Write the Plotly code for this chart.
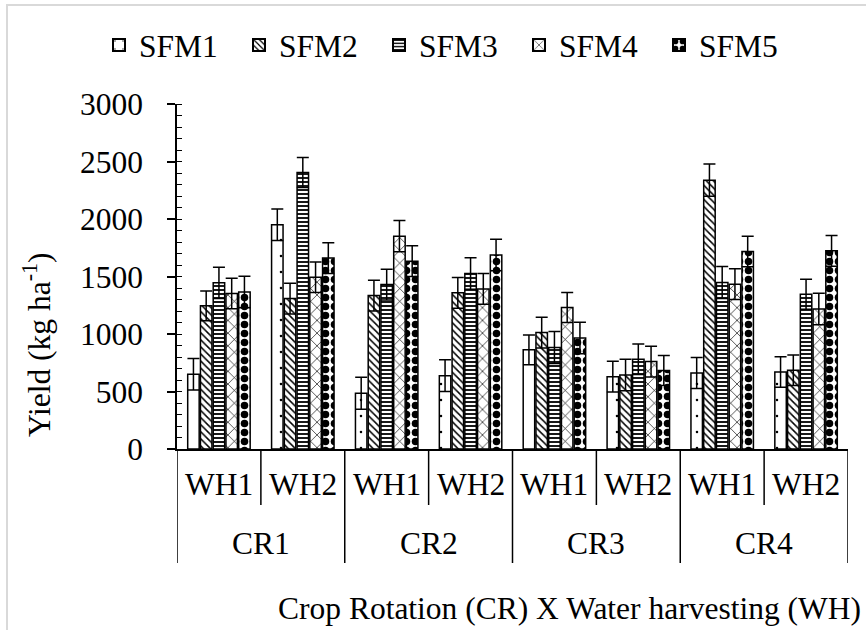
import plotly.graph_objects as go

# ---------------- data ----------------
crop_rotations = ["CR1", "CR2", "CR3", "CR4"]
water_harvesting = ["WH1", "WH2"]
series_names = ["SFM1", "SFM2", "SFM3", "SFM4", "SFM5"]

sfm1 = [650, 1950, 485, 638, 862, 629, 661, 670]
sfm2 = [1245, 1308, 1334, 1358, 1012, 644, 2338, 685]
sfm3 = [1445, 2405, 1430, 1526, 882, 781, 1448, 1346]
sfm4 = [1352, 1494, 1851, 1392, 1230, 760, 1433, 1218]
sfm5 = [1366, 1660, 1633, 1688, 966, 682, 1718, 1723]

sfm1_err = [136, 136, 139, 139, 130, 134, 134, 133]
sfm2_err = [130, 134, 134, 133, 134, 137, 140, 133]
sfm3_err = [136, 130, 134, 136, 139, 133, 139, 131]
sfm4_err = [133, 133, 136, 134, 130, 134, 134, 137]
sfm5_err = [137, 133, 134, 137, 137, 130, 133, 133]

y_title = "Yield (kg ha<sup>-1</sup>)"
x_title = "Crop Rotation (CR) X Water harvesting (WH)"

# ---------------- layout geometry (px) ----------------
W, H = 866, 630
ML, MR, MT, MB = 177, 18, 104, 181
PW = W - ML - MR
PH = H - MT - MB
FONT = "Liberation Serif, Times New Roman, DejaVu Serif, serif"
FS = 31.5


def px_x(px):
    return (px - ML) / PW


def px_y(py):
    return (H - MB - py) / PH


categories = [f"{cr} {wh}" for cr in crop_rotations for wh in water_harvesting]

values = [sfm1, sfm2, sfm3, sfm4, sfm5]
errors = [sfm1_err, sfm2_err, sfm3_err, sfm4_err, sfm5_err]
patterns = [
    dict(shape=".", size=16, solidity=0.02),
    dict(shape="\\", size=5, solidity=0.3),
    dict(shape="-", size=4, solidity=0.45),
    dict(shape="x", size=9, solidity=0.14),
    dict(shape=".", size=9, solidity=0.55),
]

fig = go.Figure()
for name, vals, errs, pat in zip(series_names, values, errors, patterns):
    fig.add_trace(go.Bar(
        name=name,
        x=categories,
        y=vals,
        marker=dict(
            color="white",
            line=dict(color="black", width=1.5),
            pattern=dict(fgcolor="black", bgcolor="white", fillmode="replace", **pat),
        ),
        error_y=dict(type="data", array=errs, symmetric=True,
                     color="black", thickness=1.5, width=6),
    ))

# category dividers under the axis
shapes = []
n = len(categories)
for k in range(n + 1):
    is_outer = (k % len(water_harvesting) == 0)
    bottom = 563 if is_outer else 505
    shapes.append(dict(type="line", xref="x", yref="paper",
                       x0=k - 0.5, x1=k - 0.5, y0=0, y1=px_y(bottom),
                       line=dict(color="black", width=1.5)))
# light chart-area border (top & left visible)
shapes.append(dict(type="rect", xref="paper", yref="paper",
                   x0=px_x(7), x1=px_x(W + 20), y0=px_y(H + 20), y1=px_y(5),
                   line=dict(color="#d9d9d9", width=2), fillcolor="rgba(0,0,0,0)",
                   layer="below"))

annotations = []
for i, cat in enumerate(categories):
    wh = water_harvesting[i % len(water_harvesting)]
    annotations.append(dict(x=i, y=px_y(484), xref="x", yref="paper", text=wh,
                            showarrow=False, xanchor="center", yanchor="middle",
                            font=dict(family=FONT, size=FS, color="black")))
for j, cr in enumerate(crop_rotations):
    annotations.append(dict(x=j * 2 + 0.5, y=px_y(543), xref="x", yref="paper", text=cr,
                            showarrow=False, xanchor="center", yanchor="middle",
                            font=dict(family=FONT, size=FS, color="black")))
annotations.append(dict(x=px_x(863), y=px_y(608), xref="paper", yref="paper",
                        text=x_title, showarrow=False, xanchor="right", yanchor="middle",
                        font=dict(family=FONT, size=FS, color="black")))
annotations.append(dict(x=px_x(37), y=px_y(345), xref="paper", yref="paper",
                        text=y_title, textangle=-90, showarrow=False,
                        xanchor="center", yanchor="middle",
                        font=dict(family=FONT, size=FS, color="black")))

fig.update_layout(
    width=W, height=H,
    margin=dict(l=ML, r=MR, t=MT, b=MB),
    paper_bgcolor="white", plot_bgcolor="white",
    font=dict(family=FONT, size=FS, color="black"),
    barmode="group", bargap=0.24, bargroupgap=0.1,
    showlegend=True,
    legend=dict(orientation="h", x=px_x(99), xanchor="left",
                y=px_y(45), yanchor="middle",
                font=dict(family=FONT, size=FS, color="black"),
                entrywidth=95, itemsizing="constant",
                bgcolor="rgba(0,0,0,0)"),
    xaxis=dict(type="category", range=[-0.5, n - 0.5], showticklabels=False,
               ticks="", showline=True, linecolor="black", linewidth=1.5,
               showgrid=False, zeroline=False),
    yaxis=dict(range=[0, 3000], dtick=500, tick0=0, ticks="outside", ticklen=8,
               tickwidth=1.5, tickcolor="black", showline=True, linecolor="black",
               linewidth=1.5, showgrid=False, zeroline=False,
               ticklabelstandoff=18,
               tickfont=dict(family=FONT, size=FS, color="black"),
               minor=dict(dtick=100, ticks="inside", ticklen=5, tickwidth=1,
                          tickcolor="black", showgrid=False)),
    shapes=shapes,
    annotations=annotations,
)

fig.write_html("out.html")
